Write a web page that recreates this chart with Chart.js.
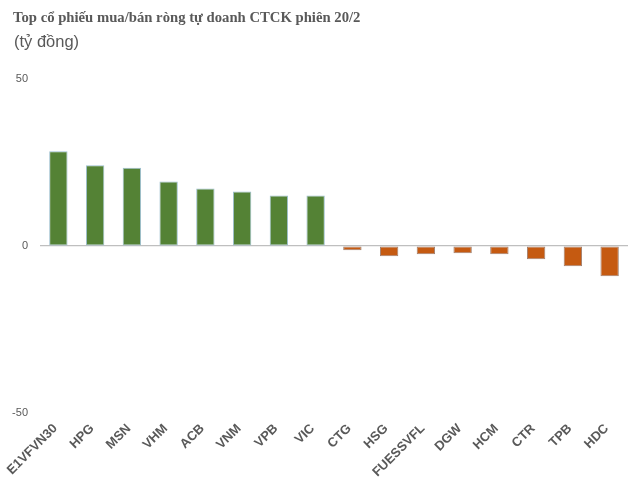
<!DOCTYPE html>
<html>
<head>
<meta charset="utf-8">
<script src="https://cdn.jsdelivr.net/npm/chart.js@4"></script>
<style>
  body { margin: 0; background: #fff; }
  #wrap { position: relative; width: 630px; height: 482px; }
  #title { position: absolute; left: 13px; top: 9px; font: bold 14.7px "Liberation Serif", serif; color: #595959; white-space: nowrap; }
  #unit { position: absolute; left: 14px; top: 32px; font: 16.5px "Liberation Sans", sans-serif; color: #595959; }
  canvas { position: absolute; left: 0; top: 0; }
</style>
</head>
<body>
<div id="wrap">
  <canvas id="chart" width="630" height="482"></canvas>
  <div id="title">Top cổ phiếu mua/bán ròng tự doanh CTCK phiên 20/2</div>
  <div id="unit">(tỷ đồng)</div>
</div>
<script>
const tickers = ["E1VFVN30", "HPG", "MSN", "VHM", "ACB", "VNM", "VPB", "VIC",
                 "CTG", "HSG", "FUESSVFL", "DGW", "HCM", "CTR", "TPB", "HDC"];
const netValues = [28.4, 24.2, 23.4, 19.3, 17.2, 16.3, 15.1, 15.1,
                   -1.3, -3.1, -2.5, -2.2, -2.5, -4.0, -6.1, -9.1];
const yTicks = [-50, 0, 50];

const green = "#548235";
const orange = "#C55A11";

const ctx = document.getElementById("chart").getContext("2d");
new Chart(ctx, {
  type: "bar",
  data: {
    labels: tickers,
    datasets: [{
      data: netValues,
      backgroundColor: netValues.map(v => v >= 0 ? green : orange),
      borderColor: netValues.map(v => v >= 0 ? "#9dbfcf" : "#a08070"),
      borderWidth: 1,
      borderSkipped: false,
      categoryPercentage: 1,
      barPercentage: 0.5
    }]
  },
  options: {
    responsive: false,
    animation: false,
    layout: { padding: { top: 79, left: 0, right: 2, bottom: 2 } },
    plugins: {
      legend: { display: false },
      tooltip: { enabled: false }
    },
    scales: {
      x: {
        grid: { display: false },
        border: { display: false },
        // let the first rotated label hang past the plot's left edge
        afterFit: axis => { axis.paddingLeft = 0; axis.paddingRight = 0; },
        ticks: {
          minRotation: 45,
          maxRotation: 45,
          padding: 0,
          labelOffset: -3,
          color: "#595959",
          font: { family: "Liberation Sans", size: 13, weight: "bold" }
        }
      },
      y: {
        min: -50,
        max: 50,
        afterBuildTicks: axis => { axis.ticks = yTicks.map(v => ({ value: v })); },
        afterFit: axis => { axis.width = 40; },
        border: { display: false },
        grid: {
          drawTicks: false,
          color: c => c.tick && c.tick.value === 0 ? "#bfbfbf" : "rgba(0,0,0,0)",
          lineWidth: 1.2
        },
        ticks: {
          padding: 12,
          color: "#595959",
          font: { family: "Liberation Sans", size: 11 }
        }
      }
    }
  }
});
</script>
</body>
</html>
